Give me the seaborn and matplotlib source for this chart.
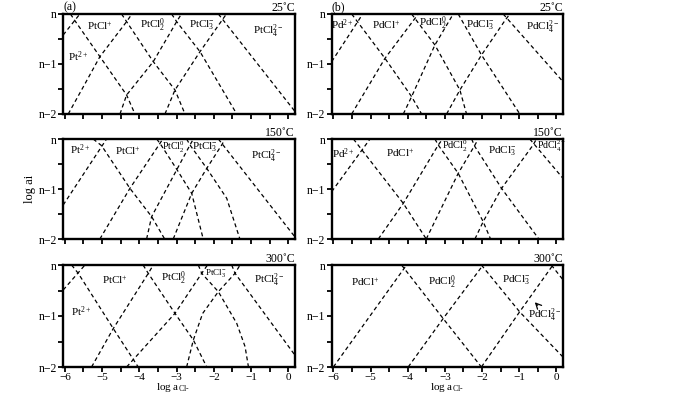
import matplotlib
matplotlib.use("Agg")
import matplotlib.pyplot as plt
import seaborn as sns
import pandas as pd

sns.set_style("ticks")
plt.rcParams['font.family'] = ['Liberation Serif', 'DejaVu Serif']
plt.rcParams['mathtext.fontset'] = 'custom'
plt.rcParams['mathtext.rm'] = 'Liberation Serif'
plt.rcParams['mathtext.it'] = 'Liberation Serif:italic'
plt.rcParams['axes.unicode_minus'] = True
for key in ['text.color', 'axes.labelcolor', 'xtick.color', 'ytick.color', 'axes.edgecolor']:
    plt.rcParams[key] = 'black'

# ---------------- data (log a_Cl- , log a_i relative to n) ----------------
# (a) Pt, 25 C
pt25_x = [[-6.045, -5.597],
          [-5.85, -5.731, -5.059, -4.342, -4.118],
          [-5.91, -5.5, -5.059, -4.342, -4.2],
          [-4.477, -4.342, -3.626, -3.043, -2.774],
          [-4.52, -4.342, -3.626, -2.998, -2.87],
          [-3.133, -2.998, -2.371, -1.385],
          [-3.312, -3.043, -2.371, -1.744, -1.662],
          [-1.878, 0.18]]
pt25_y = [[-0.42, 0.0],
          [0.0, -0.133, -0.853, -1.62, -2.0],
          [-2.0, -1.45, -0.853, -0.153, 0.0],
          [0.0, -0.153, -0.953, -1.52, -2.0],
          [-2.0, -1.62, -0.953, -0.153, 0.0],
          [0.0, -0.153, -0.753, -2.0],
          [-2.0, -1.52, -0.753, -0.087, 0.0],
          [0.0, -1.95]]
# (b) Pd, 25 C
pd25_x = [[-6.045, -5.21],
          [-5.507, -4.611, -3.894, -3.625],
          [-5.507, -4.611, -3.715],
          [-3.894, -3.267, -2.595, -2.416],
          [-4.118, -3.894, -3.267, -2.774],
          [-2.64, -2.013, -0.982],
          [-2.953, -2.595, -2.013, -1.385, -1.251],
          [-1.43, 0.18]]
pd25_y = [[-0.953, 0.0],
          [0.0, -0.887, -1.653, -2.0],
          [-2.0, -0.887, 0.0],
          [0.0, -0.62, -1.52, -2.0],
          [-2.0, -1.653, -0.62, 0.0],
          [0.0, -0.82, -2.0],
          [-2.0, -1.52, -0.82, -0.133, 0.0],
          [0.0, -1.353]]
# (a) Pt, 150 C
pt150_x = [[-6.045, -4.88],
           [-5.24, -5.014, -4.253, -3.67, -3.32],
           [-5.06, -4.253, -3.446, -3.37],
           [-3.535, -3.446, -2.992, -2.594, -2.285],
           [-3.805, -3.67, -2.992, -2.64, -2.55],
           [-2.73, -2.64, -2.19, -1.653, -1.3],
           [-3.09, -2.594, -2.19, -1.788, -1.70],
           [-1.878, 0.18]]
pt150_y = [[-1.32, 0.0],
           [0.0, -0.133, -0.987, -1.553, -2.0],
           [-2.0, -0.987, -0.087, 0.0],
           [0.0, -0.087, -0.61, -1.087, -2.0],
           [-2.0, -1.553, -0.61, -0.12, 0.0],
           [0.0, -0.12, -0.587, -1.187, -2.0],
           [-2.0, -1.087, -0.587, -0.12, 0.0],
           [0.0, -1.96]]
# (b) Pd, 150 C
pd150_x = [[-6.045, -5.014],
           [-5.46, -4.118, -3.5],
           [-4.79, -4.118, -3.177, -3.06],
           [-3.267, -3.177, -2.64, -1.968, -1.77],
           [-3.5, -2.64, -2.19, -2.1],
           [-2.28, -2.19, -1.473, -0.47],
           [-2.19, -1.968, -1.473, -0.624, -0.535],
           [-0.714, 0.18]]
pd150_y = [[-1.053, 0.0],
           [0.0, -1.287, -2.0],
           [-2.0, -1.287, -0.12, 0.0],
           [0.0, -0.12, -0.687, -1.653, -2.0],
           [-2.0, -0.687, -0.12, 0.0],
           [0.0, -0.153, -0.987, -2.0],
           [-2.0, -1.653, -0.987, -0.12, 0.0],
           [0.0, -0.787]]
# (a) Pt, 300 C
pt300_x = [[-6.045, -5.46],
           [-5.82, -5.64, -4.70, -4.03],
           [-5.283, -4.70, -3.76, -3.625],
           [-3.9, -3.76, -3.043, -2.55, -2.19],
           [-4.342, -3.043, -2.325, -2.17],
           [-2.417, -2.325, -1.879, -1.385, -1.161, -1.07],
           [-2.73, -2.55, -2.3, -1.879, -1.43, -1.296],
           [-1.52, -1.43, 0.18]]
pt300_y = [[-0.49, 0.0],
           [0.0, -0.164, -1.246, -2.0],
           [-2.0, -1.246, -0.164, 0.0],
           [0.0, -0.164, -0.948, -1.47, -2.0],
           [-2.0, -0.948, -0.163, 0.0],
           [0.0, -0.163, -0.523, -1.144, -1.6, -2.0],
           [-2.0, -1.47, -0.95, -0.523, -0.163, 0.0],
           [0.0, -0.163, -1.77]]
# (b) Pd, 300 C
pd300_x = [[-6.0, -4.03],
           [-4.165, -3.045, -2.016],
           [-3.986, -3.045, -1.97],
           [-2.016, -0.987, 0.177],
           [-2.016, -0.987, -0.09],
           [-0.135, 0.18]]
pd300_y = [[-2.0, 0.0],
           [0.0, -1.05, -2.0],
           [-2.0, -1.05, 0.0],
           [0.0, -0.918, -1.803],
           [-2.0, -0.918, 0.0],
           [0.0, -0.29]]

pt_species = ["Pt$^{2+}$", "PtCl$^{+}$", "PtCl$_2^0$", "PtCl$_3^{-}$", "PtCl$_4^{2-}$"]
pd_species = ["Pd$^{2+}$", "PdCl$^{+}$", "PdCl$_2^0$", "PdCl$_3^{-}$", "PdCl$_4^{2-}$"]
temperatures = ["25˚C", "150˚C", "300˚C"]
y_tick_labels = ["n\u22122", "n\u22121", "n"]
x_tick_labels = ["\u22126", "\u22125", "\u22124", "\u22123", "\u22122", "\u22121", "0"]

# ---------------- layout ----------------
W, H = 700, 395
fig = plt.figure(figsize=(7.0, 3.95), dpi=100)
cols = [(63, 295), (331.5, 563)]
rows = [(14, 114), (139, 239), (265, 367)]

# label placements (x, y, fontsize) per panel
pt_label_pos = [
    [(-5.64, -0.85, 8), (-5.06, -0.25, 8), (-3.63, -0.22, 8), (-2.33, -0.22, 8), (-0.53, -0.35, 8)],
    [(-5.6, -0.22, 8), (-4.3, -0.25, 8), (-3.09, -0.17, 7), (-2.24, -0.17, 8), (-0.58, -0.35, 8)],
    [(-5.55, -0.92, 8), (-4.66, -0.29, 8), (-3.09, -0.26, 8), (-1.95, -0.16, 6.5), (-0.5, -0.3, 8)],
]
pd_label_pos = [
    [(-5.75, -0.22, 8), (-4.57, -0.22, 8), (-3.31, -0.19, 8), (-2.06, -0.22, 8), (-0.36, -0.27, 8)],
    [(-5.73, -0.29, 8), (-4.21, -0.29, 8), (-2.73, -0.15, 7.5), (-1.47, -0.25, 8), (-0.12, -0.15, 7)],
    [None, (-5.15, -0.33, 8), (-3.09, -0.33, 8), (-1.08, -0.3, 8), (-0.31, -0.99, 8)],
]

panels = [
    [(pt25_x, pt25_y), (pd25_x, pd25_y)],
    [(pt150_x, pt150_y), (pd150_x, pd150_y)],
    [(pt300_x, pt300_y), (pd300_x, pd300_y)],
]

for r, (ty, by) in enumerate(rows):
    for c, (lx, rx) in enumerate(cols):
        ax = fig.add_axes([lx / W, 1 - by / H, (rx - lx) / W, (by - ty) / H])
        xs, ys = panels[r][c]
        recs = []
        for i, (sx, sy) in enumerate(zip(xs, ys)):
            for k, (a, b) in enumerate(zip(sx, sy)):
                recs.append({"seg": i, "k": k, "x": a, "y": b})
        df = pd.DataFrame(recs)
        sns.lineplot(data=df, x="x", y="y", units="seg", estimator=None, sort=False,
                     color="black", lw=0.9, linestyle=(0, (3.2, 2.4)), ax=ax, legend=False)
        ax.set_xlim(-6.05, 0.18)
        ax.set_ylim(-2, 0)
        ax.set_xlabel("")
        ax.set_ylabel("")
        ax.set_xticks([-6, -5, -4, -3, -2, -1, 0])
        ax.set_xticks([-5.5, -4.5, -3.5, -2.5, -1.5, -0.5], minor=True)
        ax.set_yticks([-2, -1, 0])
        ax.set_yticks([-1.5, -0.5], minor=True)
        ax.set_yticklabels(y_tick_labels, fontsize=8.5)
        if r == 2:
            ax.set_xticklabels(x_tick_labels, fontsize=8)
        else:
            ax.set_xticklabels([])
        ax.tick_params(which="both", direction="out", length=3.5, width=1.3, pad=1.0)
        ax.tick_params(axis="x", pad=0.5)
        for s in ax.spines.values():
            s.set_linewidth(1.7)
            s.set_visible(True)
        ax.text(1.0, 1.0, temperatures[r], transform=ax.transAxes, ha="right", va="bottom",
                fontsize=8.5)
        species = pt_species if c == 0 else pd_species
        poss = pt_label_pos[r] if c == 0 else pd_label_pos[r]
        for name, p in zip(species, poss):
            if p is None:
                continue
            ax.text(p[0], p[1], name, ha="center", va="center", fontsize=p[2])
        if r == 0:
            ax.text(0.0, 1.01, "(a)" if c == 0 else "(b)", transform=ax.transAxes,
                    ha="left", va="bottom", fontsize=8.5)
        if r == 2 and c == 1:
            ax.annotate("", xy=(-0.63, -0.69), xytext=(-0.45, -0.83),
                        arrowprops=dict(arrowstyle="->", lw=0.9, color="black"))

fig.text(30 / W, 1 - 189 / H, "log ai", rotation=90, ha="center", va="center", fontsize=9)
xlab = "log a$_{\\mathrm{Cl}\\text{-}}$"
fig.text(173 / W, 1 - 390.5 / H, xlab, ha="center", va="baseline", fontsize=8)
fig.text(447 / W, 1 - 390.5 / H, xlab, ha="center", va="baseline", fontsize=8)

fig.savefig("out.png", dpi=100)
